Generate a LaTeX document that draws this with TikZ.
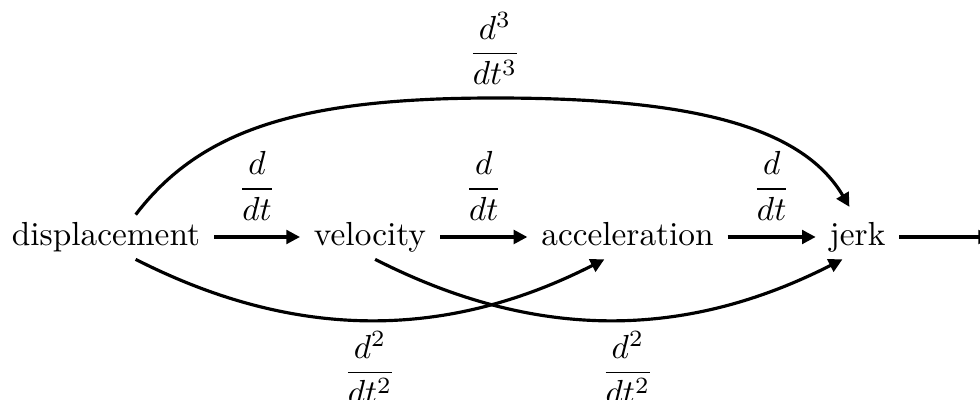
\documentclass[tikz,border=0pt]{standalone}
\usepackage{amsmath}
\usetikzlibrary{arrows.meta}
\begin{document}
\begin{tikzpicture}[x=0.3pt,y=0.3pt,
  obj/.style={inner xsep=4.0pt, inner ysep=2.07pt, text height=6.94pt, text depth=1.94pt},
  arr/.style={line width=0.95pt, -{Triangle[length=4.1pt,width=4.1pt]}},
  lbl/.style={inner sep=0pt}]
\useasboundingbox (0,0) rectangle (980,-400);
\clip (0,0) rectangle (980,-400);
\node[obj] (disp) at (106,-237) {displacement};
\node[obj] (vel) at (370,-237) {velocity};
\node[obj] (acc) at (627.5,-237) {acceleration};
\node[obj] (jerk) at (857.5,-237) {jerk};
\coordinate (off) at (992,-237);
\coordinate (top) at (495,-98);
\draw[arr] (disp) -- node[lbl, above=4.6pt] {$\dfrac{d}{dt}$} (vel);
\draw[arr] (vel) -- node[lbl, above=4.6pt] {$\dfrac{d}{dt}$} (acc);
\draw[arr] (acc) -- node[lbl, above=4.6pt] {$\dfrac{d}{dt}$} (jerk);
\draw[arr] (jerk) -- (off);
\draw[arr, shorten >=2.7pt] (disp.37) .. controls +(65,85) and +(-195,0) .. (top)
  node[lbl, above=3.5pt] {$\dfrac{d^3}{dt^3}$}
  .. controls +(185,0) and +(-54,92) .. (jerk.99);
\draw[arr] (disp.-37) .. controls +(159,-81) and +(-159,-81) .. (acc.224)
  node[midway, lbl, below=2.8pt] {$\dfrac{d^2}{dt^2}$};
\draw[arr] (vel.-77) .. controls +(159,-81) and +(-159,-81) .. (jerk.236)
  node[midway, lbl, below=2.8pt, xshift=5.7pt] {$\dfrac{d^2}{dt^2}$};
\end{tikzpicture}
\end{document}
